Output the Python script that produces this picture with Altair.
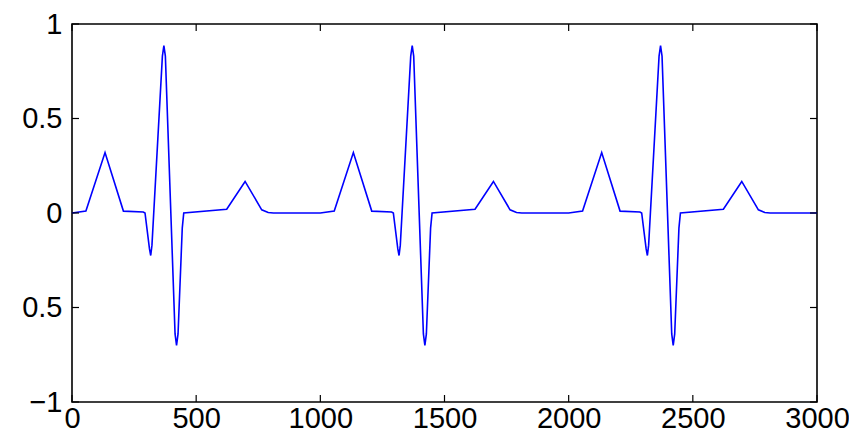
import altair as alt
import pandas as pd

# One ECG-like trace, three beats
x_vals = [
    0, 56, 133, 207, 287, 294, 312, 317, 322, 364, 370, 376, 415, 421, 427, 444, 450, 623, 697, 764, 790, 811,
    1000, 1056, 1133, 1207, 1287, 1294, 1312, 1317, 1322, 1364, 1370, 1376, 1415, 1421, 1427, 1444, 1450, 1623, 1697, 1764, 1790, 1811,
    2000, 2056, 2133, 2207, 2287, 2294, 2312, 2317, 2322, 2364, 2370, 2376, 2415, 2421, 2427, 2444, 2450, 2623, 2697, 2764, 2790, 2811,
    3000,
]
y_vals = [
    0, 0.01, 0.32, 0.01, 0.005, 0.0, -0.19, -0.225, -0.17, 0.83, 0.885, 0.83, -0.64, -0.70, -0.64, -0.08, 0.0, 0.02, 0.167, 0.017, 0.003, 0.0,
    0, 0.01, 0.32, 0.01, 0.005, 0.0, -0.19, -0.225, -0.17, 0.83, 0.885, 0.83, -0.64, -0.70, -0.64, -0.08, 0.0, 0.02, 0.167, 0.017, 0.003, 0.0,
    0, 0.01, 0.32, 0.01, 0.005, 0.0, -0.19, -0.225, -0.17, 0.83, 0.885, 0.83, -0.64, -0.70, -0.64, -0.08, 0.0, 0.02, 0.167, 0.017, 0.003, 0.0,
    0,
]

x_ticks = [0, 500, 1000, 1500, 2000, 2500, 3000]
y_ticks = [-1, -0.5, 0, 0.5, 1]
y_tick_labels = ["\u22121", "0.5", "0", "0.5", "1"]  # as printed in the reference

W, H = 745, 378
TL = 7  # inward tick length
FS = 29

df = pd.DataFrame({"x": x_vals, "y": y_vals})
xt = pd.DataFrame({"xt": x_ticks})
yt = pd.DataFrame({"yt": y_ticks})

y_label_expr = " : ".join(
    f"datum.value == {v} ? '{t}'" for v, t in zip(y_ticks, y_tick_labels)
) + " : ''"

xscale = alt.Scale(domain=[0, 3000], nice=False, zero=False)
yscale = alt.Scale(domain=[-1, 1], nice=False, zero=False)

x_axis = alt.Axis(values=x_ticks, title=None, grid=False, ticks=False, domain=False,
                  format="d",
                  labelFontSize=FS, labelFont="Liberation Sans", labelColor="black",
                  labelPadding=2, labelFlush=False, labelOverlap=False)
y_axis = alt.Axis(values=y_ticks, title=None, grid=False, ticks=False, domain=False,
                  labelFontSize=FS, labelFont="Liberation Sans", labelColor="black",
                  labelPadding=10, labelFlush=False, labelOverlap=False,
                  labelExpr=y_label_expr)

line = alt.Chart(df).mark_line(color="#0000ff", strokeWidth=1.6).encode(
    x=alt.X("x:Q", scale=xscale, axis=x_axis),
    y=alt.Y("y:Q", scale=yscale, axis=y_axis),
)

tick_style = dict(color="black", strokeWidth=1.2)

bottom_ticks = alt.Chart(xt).mark_rule(**tick_style).encode(
    x=alt.X("xt:Q", scale=xscale, axis=x_axis), y=alt.value(H), y2=alt.value(H - TL))
top_ticks = alt.Chart(xt).mark_rule(**tick_style).encode(
    x=alt.X("xt:Q", scale=xscale, axis=x_axis), y=alt.value(0), y2=alt.value(TL))
left_ticks = alt.Chart(yt).mark_rule(**tick_style).encode(
    y=alt.Y("yt:Q", scale=yscale, axis=y_axis), x=alt.value(0), x2=alt.value(TL))
right_ticks = alt.Chart(yt).mark_rule(**tick_style).encode(
    y=alt.Y("yt:Q", scale=yscale, axis=y_axis), x=alt.value(W), x2=alt.value(W - TL))

chart = alt.layer(line, bottom_ticks, top_ticks, left_ticks, right_ticks).properties(
    width=W, height=H,
    background="white",
    autosize=alt.AutoSizeParams(type="none"),
    padding={"left": 64, "top": 16, "right": 32, "bottom": 32},
).configure_view(stroke="black", strokeWidth=1.6)

chart.save("out.html", embed_options={"renderer": "svg", "actions": False})
